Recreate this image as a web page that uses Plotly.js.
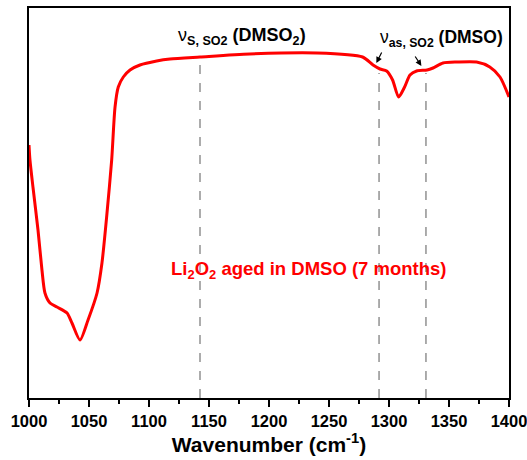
<!DOCTYPE html>
<html>
<head>
<meta charset="utf-8">
<script src="https://cdn.plot.ly/plotly-3.0.1.min.js"></script>
<style>html,body{margin:0;padding:0;background:#fff;}#chart{width:527px;height:460px;}</style>
</head>
<body>
<div id="chart"></div>
<script>
// Wavenumber (cm^-1)
var wavenumber = [1000, 1000.8, 1003.3, 1007.5, 1010.8, 1013.3, 1017.5, 1023.3, 1031.7, 1035.8, 1042.5, 1049.2, 1056.7, 1060.8, 1065, 1068.9, 1071.7, 1074.4, 1078.6, 1084.2, 1092.5, 1106.4, 1117.5, 1142.5, 1184, 1240, 1278, 1286.7, 1292.5, 1298, 1303, 1308, 1313, 1317.5, 1323, 1331.7, 1336.7, 1345, 1356.7, 1373, 1384, 1392.5, 1400];
// Transmittance (a.u.)
var transmittance = [253, 238, 211, 168, 128, 105, 95, 91, 85, 75, 58, 78, 105, 135, 185, 238, 291, 311, 321, 328, 333, 337, 339, 341, 344, 345, 341, 333, 329, 327, 318, 301, 311, 323, 327, 328, 330, 335, 336, 336, 331, 321, 301];
// Marker band positions
var bandPositions = [1142.5, 1291.7, 1330.8];
var bandTops = [340, 325, 325];
var xTicks = [1000, 1050, 1100, 1150, 1200, 1250, 1300, 1350, 1400];

var traces = [{
  x: wavenumber, y: transmittance, type: 'scatter', mode: 'lines',
  line: {color: '#ff0000', width: 3, shape: 'spline', smoothing: 0.7},
  hoverinfo: 'skip', showlegend: false
}];

var shapes = bandPositions.map(function(b, i){
  return {type: 'line', xref: 'x', yref: 'y', x0: b, x1: b, y0: 0, y1: bandTops[i],
          line: {color: '#808080', width: 1.3, dash: 'dash'}};
});

var font = 'Liberation Sans, Arial, sans-serif';
var layout = {
  width: 527, height: 460,
  margin: {l: 29, r: 18, t: 8, b: 62},
  paper_bgcolor: '#fff', plot_bgcolor: '#fff',
  font: {family: font, color: '#000'},
  xaxis: {
    range: [1000, 1400], tickvals: xTicks, ticktext: xTicks.map(function(t){return '<b>' + t + '</b>';}),
    ticks: 'outside', ticklen: 7, tickwidth: 2, tickcolor: '#000', ticklabeloverflow: 'allow',
    minor: {dtick: 25, tick0: 1000, ticks: 'outside', ticklen: 4, tickwidth: 2, tickcolor: '#000'},
    showline: true, linewidth: 2, linecolor: '#000', mirror: true,
    showgrid: false, zeroline: false, automargin: false,
    tickfont: {size: 16.5, family: font, color: '#000'},
    title: {text: '<b>Wavenumber (cm<sup>-1</sup>)</b>', font: {size: 21, family: font, color: '#000'}, standoff: 6}
  },
  yaxis: {
    range: [0, 390], showticklabels: false, ticks: '',
    showline: true, linewidth: 2, linecolor: '#000', mirror: true,
    showgrid: false, zeroline: false
  },
  shapes: shapes,
  annotations: [
    {xref: 'x', yref: 'y', x: 1142.5, y: 362, text: 'ν<sub><b>S, SO2</b></sub><b> (DMSO<sub>2</sub>)</b>',
     showarrow: false, xanchor: 'left', yanchor: 'middle', xshift: -24, font: {size: 18, family: font, color: '#000'}},
    {xref: 'x', yref: 'y', x: 1291.7, y: 360, text: 'ν<sub><b>as, SO2</b></sub><b> (DMSO)</b>',
     showarrow: false, xanchor: 'left', yanchor: 'middle', xshift: -1, font: {size: 17.5, family: font, color: '#000'}},
    {xref: 'x', yref: 'y', x: 1289.5, y: 335, ax: 1294.5, ay: 347, axref: 'x', ayref: 'y',
     text: '', showarrow: true, arrowhead: 2, arrowsize: 1, arrowwidth: 1.2, arrowcolor: '#000'},
    {xref: 'x', yref: 'y', x: 1327, y: 332, ax: 1321, ay: 343, axref: 'x', ayref: 'y',
     text: '', showarrow: true, arrowhead: 2, arrowsize: 1, arrowwidth: 1.2, arrowcolor: '#000'},
    {xref: 'x', yref: 'y', x: 1233, y: 128, text: '<b>Li<sub>2</sub>O<sub>2</sub> aged in DMSO (7 months)</b>',
     showarrow: false, xanchor: 'center', yanchor: 'middle', font: {size: 18.5, family: font, color: '#ff0000'}}
  ]
};

Plotly.newPlot('chart', traces, layout, {displayModeBar: false, staticPlot: true});
</script>
</body>
</html>
